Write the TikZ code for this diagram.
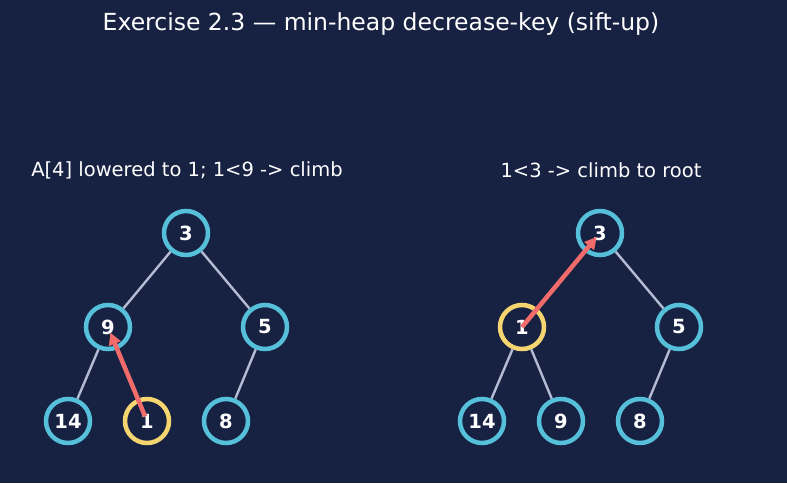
\documentclass[tikz,border=0pt]{standalone}
\usepackage{fontspec}
\setmainfont{DejaVu Sans}
\usetikzlibrary{arrows.meta}
\definecolor{bg}{HTML}{172142}
\definecolor{cyanring}{HTML}{56C0DA}
\definecolor{yelring}{HTML}{F4D56F}
\definecolor{edgecol}{HTML}{B4BBD3}
\definecolor{arrcol}{HTML}{F26B6B}
\tikzset{
  hnode/.style={circle, draw=cyanring, line width=4.5pt, minimum size=44pt, inner sep=0pt, text=white, font=\fontsize{19.5}{19.5}\selectfont\bfseries},
  hot/.style={draw=yelring},
  tedge/.style={draw=edgecol, line width=2.4pt},
  arr/.style={draw=arrcol, line width=4.5pt, -{Triangle[length=12pt,width=12pt]}},
  lbl/.style={text=white, font=\fontsize{19.5}{19.5}\selectfont},
}
\begin{document}
\begin{tikzpicture}[x=1pt,y=-1pt]
\fill[bg] (0,0) rectangle (787,483);
\useasboundingbox (0,0) rectangle (787,483);
\node[lbl, font=\fontsize{23.5}{23.5}\selectfont] (title) at (381,24) {Exercise 2.3 — min-heap decrease-key (sift-up)};
\node[lbl] (capL) at (187,170) {A[4] lowered to 1; 1<9 -> climb};
\node[lbl] (capR) at (601,170) {1<3 -> climb to root};
% left tree
\node[hnode] (L3) at (186,233) {3};
\node[hnode] (L9) at (108,327) {9};
\node[hnode] (L5) at (265,327) {5};
\node[hnode] (L14) at (68,421) {14};
\node[hnode,hot] (L1) at (147,421) {1};
\node[hnode] (L8) at (226,421) {8};
\draw[tedge] (L3) -- (L9);
\draw[tedge] (L3) -- (L5);
\draw[tedge] (L9) -- (L14);
\draw[tedge] (L9) -- (L1);
\draw[tedge] (L5) -- (L8);
\draw[arr, shorten <=5pt, shorten >=6pt] (L1.center) -- (L9.center);
% right tree
\node[hnode] (R3) at (600,233) {3};
\node[hnode,hot] (R1) at (522,327) {1};
\node[hnode] (R5) at (679,327) {5};
\node[hnode] (R14) at (482,421) {14};
\node[hnode] (R9) at (561,421) {9};
\node[hnode] (R8) at (640,421) {8};
\draw[tedge] (R3) -- (R1);
\draw[tedge] (R3) -- (R5);
\draw[tedge] (R1) -- (R14);
\draw[tedge] (R1) -- (R9);
\draw[tedge] (R5) -- (R8);
\draw[arr, shorten >=5pt] (R1.center) -- (R3.center);
\end{tikzpicture}
\end{document}
